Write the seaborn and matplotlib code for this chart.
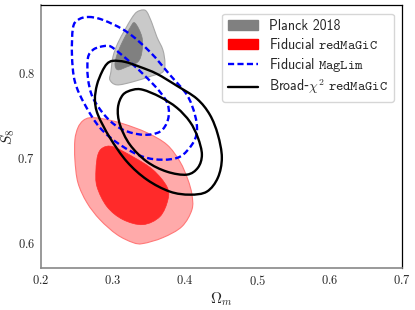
#%% MODULE BEGINS
module_name = 'omegam_s8_contours'
'''
Description:
Omega_m - S_8 constraints: Planck 2018, fiducial redMaGiC, fiducial MagLim
and broad-chi^2 redMaGiC (68% and 95% contours, traced from the figure).
'''

#%% IMPORTS ~~~~~~~~~~~~~~~~~~~~~~~~~~~~~~~~~~~~~~~~~~~~
import numpy as np
import matplotlib
matplotlib.use("Agg")
import matplotlib.pyplot as plt
from matplotlib.path import Path
from matplotlib.patches import PathPatch, Patch
from matplotlib.lines import Line2D
import seaborn as sns

#%% DATA ~~~~~~~~~~~~~~~~~~~~~~~~~~~~~~~~~~~~~~~~~~~~
# contour vertices, (Omega_m, S_8)
planck_95_om = [0.3415, 0.3470, 0.3539, 0.3608, 0.3691, 0.3719, 0.3691, 0.3539, 0.3276,
                0.3055, 0.2958, 0.2972, 0.3000, 0.3069, 0.3166, 0.3262, 0.3331]
planck_95_s8 = [0.8745, 0.8721, 0.8592, 0.8427, 0.8274, 0.8121, 0.8015, 0.7968, 0.7898,
                0.7862, 0.7921, 0.8015, 0.8192, 0.8356, 0.8510, 0.8651, 0.8721]
planck_68_om = [0.3304, 0.3401, 0.3401, 0.3345, 0.3193, 0.3069, 0.3028, 0.3055, 0.3124, 0.3235]
planck_68_s8 = [0.8592, 0.8427, 0.8251, 0.8133, 0.8074, 0.8039, 0.8098, 0.8215, 0.8356, 0.8533]

redmagic_95_om = [0.2682, 0.2862, 0.3138, 0.3470, 0.3747, 0.3927, 0.4037, 0.4093, 0.4093, 0.3954, 0.3691,
                  0.3415, 0.3276, 0.3055, 0.2820, 0.2640, 0.2516, 0.2474, 0.2474, 0.2516, 0.2585]
redmagic_95_s8 = [0.7474, 0.7462, 0.7404, 0.7298, 0.7157, 0.6957, 0.6745, 0.6568, 0.6392, 0.6192, 0.6062,
                  0.5992, 0.6004, 0.6098, 0.6274, 0.6474, 0.6709, 0.6980, 0.7215, 0.7357, 0.7439]
redmagic_68_om = [0.2862, 0.3000, 0.3276, 0.3553, 0.3747, 0.3761, 0.3650, 0.3415, 0.3138,
                  0.2917, 0.2779, 0.2765, 0.2792]
redmagic_68_s8 = [0.7121, 0.7133, 0.7015, 0.6862, 0.6662, 0.6509, 0.6309, 0.6215, 0.6274,
                  0.6427, 0.6662, 0.6862, 0.7039]

maglim_95_om = [0.2654, 0.2862, 0.3193, 0.3512, 0.3788, 0.4023, 0.4134, 0.4162, 0.4093, 0.3927,
                0.3691, 0.3415, 0.3097, 0.2820, 0.2613, 0.2474, 0.2433, 0.2447, 0.2516]
maglim_95_s8 = [0.8662, 0.8627, 0.8486, 0.8251, 0.7980, 0.7745, 0.7510, 0.7310, 0.7157, 0.7015,
                0.6980, 0.7015, 0.7157, 0.7357, 0.7627, 0.7898, 0.8215, 0.8533, 0.8627]
maglim_68_om = [0.2820, 0.2917, 0.3000, 0.3235, 0.3470, 0.3650, 0.3761, 0.3761, 0.3650, 0.3415,
                0.3138, 0.2917, 0.2723, 0.2654, 0.2654, 0.2723]
maglim_68_s8 = [0.8309, 0.8321, 0.8298, 0.8133, 0.7945, 0.7780, 0.7627, 0.7451, 0.7310, 0.7274,
                0.7333, 0.7474, 0.7709, 0.7945, 0.8180, 0.8274]

broad_95_om = [0.3000, 0.3166, 0.3373, 0.3608, 0.3885, 0.4162, 0.4341, 0.4452, 0.4507, 0.4452, 0.4300,
               0.4065, 0.3788, 0.3470, 0.3193, 0.2958, 0.2792, 0.2751, 0.2779, 0.2848, 0.2917]
broad_95_s8 = [0.8145, 0.8133, 0.8074, 0.7992, 0.7851, 0.7698, 0.7510, 0.7274, 0.7004, 0.6768, 0.6604,
               0.6568, 0.6604, 0.6745, 0.6957, 0.7239, 0.7510, 0.7686, 0.7862, 0.8015, 0.8109]
broad_68_om = [0.3276, 0.3415, 0.3650, 0.3885, 0.4065, 0.4176, 0.4231, 0.4176, 0.4023, 0.3747,
               0.3470, 0.3235, 0.3097, 0.3069, 0.3138]
broad_68_s8 = [0.7804, 0.7804, 0.7721, 0.7592, 0.7427, 0.7239, 0.7039, 0.6886, 0.6804, 0.6839,
               0.6957, 0.7157, 0.7392, 0.7592, 0.7745]

x_ticks = [0.2, 0.3, 0.4, 0.5, 0.6, 0.7]
y_ticks = [0.6, 0.7, 0.8]

legend_labels = ['Planck 2018',
                 r'$\mathsf{Fiducial}\ \mathtt{redMaGiC}$',
                 r'$\mathsf{Fiducial}\ \mathtt{MagLim}$',
                 r'$\mathsf{Broad}$-$\chi^2\ \mathtt{redMaGiC}$']


#%% FUNCTIONS ~~~~~~~~~~~~~~~~~~~~~~~~~~~~~~~~~~~~~~~~~~~~
def closed_curve(xs, ys):
    '''
    Smooth closed path through the traced vertices (Catmull-Rom as Bezier).
    '''
    pts = np.column_stack([xs, ys])
    n = len(pts)
    verts = [pts[0]]
    codes = [Path.MOVETO]
    for i in range(n):
        p0, p1, p2, p3 = pts[i - 1], pts[i], pts[(i + 1) % n], pts[(i + 2) % n]
        verts += [p1 + (p2 - p0) / 6, p2 - (p3 - p1) / 6, p2]
        codes += [Path.CURVE4] * 3
    verts.append(pts[0])
    codes.append(Path.CLOSEPOLY)
    return Path(verts, codes)


def main():
    sns.set_theme(style="white")
    plt.rcParams['mathtext.fontset'] = 'cm'
    plt.rcParams['font.family'] = ['DejaVu Sans']

    fig = plt.figure(figsize=(4.15, 3.10), dpi=100)
    ax = fig.add_axes([0.098, 0.1345, 0.8707, 0.8485])

    # filled contours
    ax.add_patch(PathPatch(closed_curve(planck_95_om, planck_95_s8),
                           facecolor='#c9c9c9', edgecolor='#a8a8a8', lw=0.8, zorder=1))
    ax.add_patch(PathPatch(closed_curve(planck_68_om, planck_68_s8),
                           facecolor='#808080', edgecolor='#808080', lw=0.5, zorder=2))
    ax.add_patch(PathPatch(closed_curve(redmagic_95_om, redmagic_95_s8),
                           facecolor='#ffaaaa', edgecolor='#ff7878', lw=0.8, zorder=1))
    ax.add_patch(PathPatch(closed_curve(redmagic_68_om, redmagic_68_s8),
                           facecolor='#ff2a2a', edgecolor='#ff2a2a', lw=0.5, zorder=2))

    # line contours
    for om, s8 in [(maglim_95_om, maglim_95_s8), (maglim_68_om, maglim_68_s8)]:
        ax.add_patch(PathPatch(closed_curve(om, s8), facecolor='none', edgecolor='#0000ff',
                               lw=1.7, linestyle=(0, (2.6, 1.4)), zorder=3))
    for om, s8 in [(broad_95_om, broad_95_s8), (broad_68_om, broad_68_s8)]:
        ax.add_patch(PathPatch(closed_curve(om, s8), facecolor='none', edgecolor='black',
                               lw=1.7, zorder=4))

    ax.set_xlim(0.2, 0.7)
    ax.set_ylim(0.57, 0.88)
    ax.set_xticks(x_ticks)
    ax.set_yticks(y_ticks)
    ax.set_xticklabels([f'${v:.1f}$' for v in x_ticks], fontsize=9)
    ax.set_yticklabels([f'${v:.1f}$' for v in y_ticks], fontsize=9)
    ax.tick_params(direction='in', length=2, width=0.8, color='#888888', pad=4)
    ax.set_xlabel(r'$\Omega_m$', fontsize=11, labelpad=2)
    ax.set_ylabel(r'$S_8$', fontsize=11, labelpad=0)

    for side in ['left', 'bottom']:
        ax.spines[side].set_color('#888888')
        ax.spines[side].set_linewidth(1.2)
    for side in ['top', 'right']:
        ax.spines[side].set_color('black')
        ax.spines[side].set_linewidth(0.9)

    handles = [Patch(facecolor='#808080', edgecolor='#808080'),
               Patch(facecolor='#ff0000', edgecolor='#ff0000'),
               Line2D([], [], color='#0000ff', lw=1.7, linestyle=(0, (2.6, 1.4))),
               Line2D([], [], color='black', lw=1.7)]
    leg = ax.legend(handles, legend_labels, loc='upper right', fontsize=10,
                    frameon=True, framealpha=0.8, edgecolor='#cccccc', fancybox=True,
                    handlelength=2.2, handletextpad=0.8, labelspacing=0.28,
                    borderaxespad=0.6)
    # plain sans label drawn in Computer Modern Sans
    leg.get_texts()[0].set_fontfamily('cmss10')

    fig.savefig('out.png', dpi=100)


#%% SELF-RUN ~~~~~~~~~~~~~~~~~~~~~~~~~~~~~~~~~~~~~~~~~~~~
if __name__ == "__main__":
    main()
